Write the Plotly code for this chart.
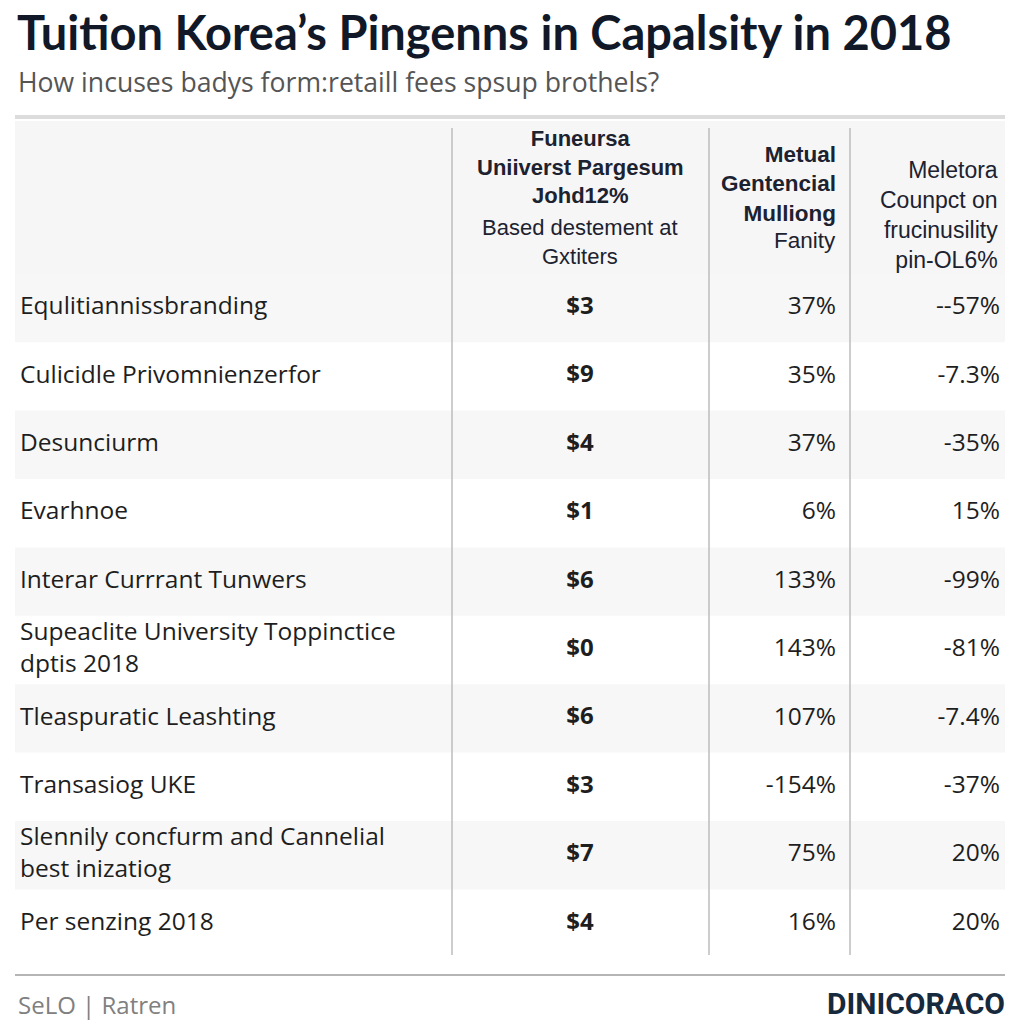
import plotly.graph_objects as go

# table content
row_labels = [
    "Equlitiannissbranding",
    "Culicidle Privomnienzerfor",
    "Desunciurm",
    "Evarhnoe",
    "Interar Currrant Tunwers",
    "Supeaclite University Toppinctice<br>dptis 2018",
    "Tleaspuratic Leashting",
    "Transasiog UKE",
    "Slennily concfurm and Cannelial<br>best inizatiog",
    "Per senzing 2018",
]
prices = [3, 9, 4, 1, 6, 0, 6, 3, 7, 4]
growth = [37, 35, 37, 6, 133, 143, 107, -154, 75, 16]
impact = ["--57%", "-7.3%", "-35%", "15%", "-99%", "-81%", "-7.4%", "-37%", "20%", "20%"]

col2_head_bold = ["Funeursa", "Uniiverst Pargesum", "Johd12%"]
col2_head_note = ["Based destement at", "Gxtiters"]
col3_head_bold = ["Metual", "Gentencial", "Mulliong"]
col3_head_note = ["Fanity"]
col4_head = ["Meletora", "Counpct on", "frucinusility", "pin-OL6%"]

# page has an 8px body margin, so figure is 1016 square and coords are screen px
OFF = 8
SIZE = 1024 - OFF
def sx(p):
    return (p - OFF) / SIZE
def sy(p):
    return 1 - (p - OFF) / SIZE

ROW0, STEP = 308, 68.4
rows = list(range(len(row_labels)))

BODY = "Open Sans, Arial, sans-serif"
HEAD = "Liberation Sans, Arial, sans-serif"

fig = go.Figure()
fig.add_trace(go.Scatter(x=[20] * len(rows), y=rows, text=row_labels, mode="text",
                         textposition="middle right",
                         textfont=dict(family=BODY, size=24.5, color="#1e1e1e")))
fig.add_trace(go.Scatter(x=[580] * len(rows), y=rows, text=[f"<b>${p}</b>" for p in prices],
                         mode="text", textposition="middle center",
                         textfont=dict(family=BODY, size=24, color="#1e1e1e")))
fig.add_trace(go.Scatter(x=[836] * len(rows), y=rows, text=[f"{g}%" for g in growth],
                         mode="text", textposition="middle left",
                         textfont=dict(family=BODY, size=24.5, color="#1e1e1e")))
fig.add_trace(go.Scatter(x=[1000] * len(rows), y=rows, text=impact,
                         mode="text", textposition="middle left",
                         textfont=dict(family=BODY, size=24.5, color="#1e1e1e")))

shapes = []
# header background and alternating row bands
shapes.append(dict(type="rect", xref="paper", yref="paper", layer="below",
                   x0=sx(15), x1=sx(1005), y0=sy(275), y1=sy(121),
                   fillcolor="#f6f6f6", line=dict(width=0)))
for i in rows[::2]:
    shapes.append(dict(type="rect", xref="paper", yref="y", layer="below",
                       x0=sx(15), x1=sx(1005), y0=i - 0.5, y1=i + 0.5,
                       fillcolor="#f7f7f7", line=dict(width=0)))
for xv in [452, 709, 850]:
    shapes.append(dict(type="line", xref="paper", yref="paper",
                       x0=sx(xv), x1=sx(xv), y0=sy(955), y1=sy(128),
                       line=dict(color="#bdbdbd", width=1.5)))
shapes.append(dict(type="line", xref="paper", yref="paper",
                   x0=sx(15), x1=sx(1005), y0=sy(117), y1=sy(117),
                   line=dict(color="#dcdcdc", width=4)))
shapes.append(dict(type="line", xref="paper", yref="paper",
                   x0=sx(15), x1=sx(1005), y0=sy(975), y1=sy(975),
                   line=dict(color="#b5b5b5", width=2)))

def note(text, x, y, xanchor, size, color, family, align="left"):
    return dict(text=text, x=sx(x), y=sy(y), xanchor=xanchor, yanchor="middle",
                align=align, xref="paper", yref="paper", showarrow=False,
                font=dict(family=family, size=size, color=color))

annotations = [
    note("<b>Tuition Korea’s Pingenns in Capalsity in 2018</b>", 15, 32, "left", 47,
         "#111827", "Lato, Inter, sans-serif"),
    note("How incuses badys form:retaill fees spsup brothels?", 16, 82, "left", 26.6,
         "#555555", BODY),
    note("<b>" + "<br>".join(col2_head_bold) + "</b>", 580, 167, "center", 22,
         "#1c2230", HEAD, "center"),
    note("<br>".join(col2_head_note), 580, 242, "center", 22, "#1c2230", HEAD, "center"),
    note("<b>" + "<br>".join(col3_head_bold) + "</b>", 838, 184, "right", 22.5,
         "#1c2230", HEAD, "right"),
    note("<br>".join(col3_head_note), 838, 240, "right", 22.5, "#1c2230", HEAD, "right"),
    note("<br>".join(col4_head), 1000, 215, "right", 23, "#1c2230", HEAD, "right"),
    note("SeLO | Ratren", 16, 1004, "left", 24, "#808080", BODY),
    note("<b>DINICORACO</b>", 1007, 1003, "right", 30, "#16293d", "Roboto, sans-serif"),
]

fig.update_layout(
    width=SIZE, height=SIZE,
    margin=dict(l=0, r=0, t=0, b=0),
    paper_bgcolor="white",
    plot_bgcolor="white",
    showlegend=False,
    hovermode=False,
    xaxis=dict(range=[OFF, 1024], visible=False, fixedrange=True),
    yaxis=dict(range=[(1024 - ROW0) / STEP, (OFF - ROW0) / STEP], visible=False,
               fixedrange=True),
    shapes=shapes,
    annotations=annotations,
)

fig.write_html("out.html")
